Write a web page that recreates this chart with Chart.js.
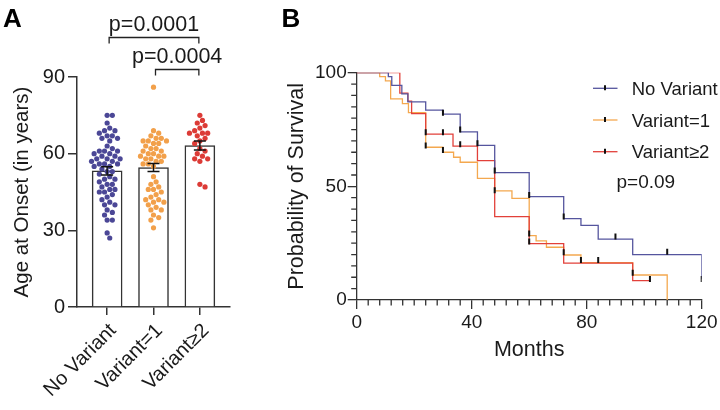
<!DOCTYPE html>
<html lang="en">
<head>
<meta charset="UTF-8">
<title>Age at onset and survival by variant</title>
<script src="https://cdn.jsdelivr.net/npm/chart.js"></script>
<style>
  html, body { margin: 0; padding: 0; background: #fff; }
  #wrap { position: relative; width: 720px; height: 410px; overflow: hidden; }
  #ageChart { position: absolute; left: 0; top: 0; }
  #survChart { position: absolute; left: 270px; top: 0; }
</style>
</head>
<body>
<div id="wrap">
  <canvas id="ageChart" width="270" height="410"></canvas>
  <canvas id="survChart" width="450" height="410"></canvas>
</div>
<script>
// ---- Panel A: age at onset ----
const groups = ['No Variant', 'Variant=1', 'Variant\u22652'];
const meanAge = [53.3, 54.6, 63.2];
const semAge = [1.6, 1.6, 1.8];
const ageNoVariant = [75, 75, 72, 70, 69, 69, 68, 67, 67, 66, 66, 65, 63, 62, 61, 61, 61, 60, 60, 59, 59,
  58, 58, 58, 57, 57, 56, 56, 56, 55, 55, 54, 53, 53, 52, 51, 50, 50, 49, 48, 48, 47, 46, 46, 45, 45,
  44, 43, 42, 41, 40, 40, 38, 37, 36, 34, 34, 29, 27];
const ageVariant1 = [86, 69, 68, 67, 66, 66, 65, 65, 65, 64, 64, 63, 62, 62, 61, 61, 60, 60, 59, 59, 59,
  58, 58, 57, 57, 56, 56, 55, 51, 49, 48, 47, 46, 46, 45, 44, 43, 42, 42, 41, 41, 40, 39, 38, 38, 36,
  35, 34, 31];
const ageVariant2 = [75, 73, 72, 71, 70, 69, 68, 68, 68, 67, 66, 65, 64, 62, 61, 60, 59, 58, 58, 57, 48, 47];
const pLabels = ['p=0.0001', 'p=0.0004'];
const pPairs = [[0, 2], [1, 2]];

// ---- Panel B: survival ----
const seriesNames = ['No Variant', 'Variant=1', 'Variant\u22652'];
const kmTimeNoVariant = [0, 11, 12.2, 15.7, 17.8, 24, 30, 36, 42, 48, 60, 72, 78, 84, 96, 120];
const kmSurvNoVariant = [100, 98.3, 94.4, 90.7, 87.2, 83.5, 81.8, 74, 68, 56, 45.5, 35.8, 32.8, 26.8, 20, 9.4];
const kmTimeVariant1 = [0, 8, 10, 11.8, 15.9, 18, 24, 30, 33.7, 36, 42, 48, 54, 60, 62.4, 66, 72, 78, 96, 108];
const kmSurvVariant1 = [100, 98.3, 96.4, 88.5, 86.4, 82.4, 67.2, 65, 62.8, 60.6, 53.5, 48, 44.7, 28.3, 26, 23.2, 19.8, 16.4, 11, 0];
const kmTimeVariant2 = [0, 15, 17.8, 19.1, 24, 33.5, 42, 48, 60, 72, 96, 102];
const kmSurvVariant2 = [100, 91, 87.5, 82, 73, 67.7, 61.3, 36.7, 24.8, 16.2, 8.5, 8.5];
const censorTimeNoVariant = [30, 36, 48, 60, 72, 90, 108, 120];
const censorSurvNoVariant = [82.4, 75, 57, 46.2, 36.7, 27.9, 21.2, 9.2];
const censorTimeVariant1 = [24, 30, 48, 60, 72, 78, 84, 96];
const censorSurvVariant1 = [68, 66, 48.3, 29.3, 21, 17.6, 17.6, 12];
const censorTimeVariant2 = [24, 30, 36, 42, 60, 102];
const censorSurvVariant2 = [73.8, 73.8, 68.5, 69, 25.7, 9.2];
const pSurvival = 'p=0.09';

Chart.defaults.font.family = '"Liberation Sans", Arial, sans-serif';
Chart.defaults.color = '#1a1a1a';

const dotColors = ['#4b4796', '#f2a04a', '#dc3b36'];
const lineColors = ['#55559e', '#f4a84f', '#e2403a'];

// simple beeswarm so dots don't overlap (pixel sizes of panel A)
const PX_PER_YEAR = 230 / 90, PX_PER_GROUP = 153 / 3.3;
function swarm(vals) {
  const d = 5.2, step = 2.6, placed = [];
  return vals.map(v => {
    const py = v * PX_PER_YEAR;
    for (let k = 0; ; k++) {
      const dx = (k % 2 ? 1 : -1) * Math.ceil(k / 2) * step;
      if (placed.every(p => Math.hypot(p.x - dx, p.y - py) >= d)) {
        placed.push({x: dx, y: py});
        return dx / PX_PER_GROUP;
      }
    }
  });
}

const ageLists = [ageNoVariant, ageVariant1, ageVariant2];
const dotSets = ageLists.map((list, g) => {
  const off = swarm(list);
  return {
    type: 'scatter',
    data: list.map((v, i) => ({x: g + off[i], y: v})),
    backgroundColor: dotColors[g],
    borderWidth: 0,
    pointRadius: 2.6,
    pointHoverRadius: 2.6,
    order: 1
  };
});

const ageExtras = {
  id: 'ageExtras',
  afterDatasetsDraw(chart) {
    const {ctx, scales: {x, y}} = chart;
    ctx.save();
    // error bars (SEM)
    ctx.strokeStyle = '#111';
    ctx.lineWidth = 1.5;
    meanAge.forEach((m, i) => {
      const px = x.getPixelForValue(i);
      const t = y.getPixelForValue(m + semAge[i]);
      const b = y.getPixelForValue(m - semAge[i]);
      ctx.beginPath();
      ctx.moveTo(px, t); ctx.lineTo(px, b);
      ctx.moveTo(px - 6, t); ctx.lineTo(px + 6, t);
      ctx.moveTo(px - 6, b); ctx.lineTo(px + 6, b);
      ctx.stroke();
    });
    // significance brackets
    const rows = [37.5, 69.5];
    ctx.lineWidth = 1.3;
    ctx.strokeStyle = '#222';
    ctx.fillStyle = '#1a1a1a';
    ctx.font = '21.5px "Liberation Sans", Arial, sans-serif';
    ctx.textAlign = 'center';
    ctx.textBaseline = 'alphabetic';
    pPairs.forEach(([a, b], k) => {
      const xa = x.getPixelForValue(a) + 2, xb = x.getPixelForValue(b) - 1;
      const yy = rows[k];
      ctx.beginPath();
      ctx.moveTo(xa, yy + 6); ctx.lineTo(xa, yy); ctx.lineTo(xb, yy); ctx.lineTo(xb, yy + 6);
      ctx.stroke();
      ctx.fillText(pLabels[k], (xa + xb) / 2, yy - 6.5);
    });
    // panel letter
    ctx.textAlign = 'left';
    ctx.font = 'bold 26px "Liberation Sans", Arial, sans-serif';
    ctx.fillStyle = '#000';
    ctx.fillText('A', 3, 27);
    ctx.restore();
  }
};

new Chart(document.getElementById('ageChart'), {
  type: 'scatter',
  data: {
    datasets: [{
      type: 'bar',
      data: meanAge.map((m, i) => ({x: i, y: m})),
      backgroundColor: '#ffffff',
      borderColor: '#333',
      borderWidth: 1.5,
      barThickness: 30,
      order: 2
    }, ...dotSets]
  },
  options: {
    responsive: false,
    animation: false,
    layout: {padding: {top: 77, right: 40, left: 0, bottom: 0}},
    plugins: {legend: {display: false}, tooltip: {enabled: false}},
    scales: {
      x: {
        type: 'linear',
        min: -0.65,
        max: 2.65,
        offset: false,
        afterBuildTicks: s => { s.ticks = groups.map((g, i) => ({value: i})); },
        afterFit: s => { s.height = 103; s.paddingLeft = 0; s.paddingRight = 0; },
        grid: {offset: false, drawOnChartArea: false, tickLength: 8, color: '#333', lineWidth: 1.5},
        border: {color: '#333', width: 1.5},
        ticks: {
          autoSkip: false,
          minRotation: 45,
          maxRotation: 45,
          padding: 4,
          labelOffset: 6,
          font: {size: 20},
          callback: v => groups[v]
        }
      },
      y: {
        min: 0,
        max: 90,
        afterFit: s => { s.width = 77; s.paddingTop = 0; s.paddingBottom = 0; },
        grid: {drawOnChartArea: false, tickLength: 9, color: '#333', lineWidth: 1.5},
        border: {color: '#333', width: 1.5},
        ticks: {stepSize: 30, padding: 3, font: {size: 20}},
        title: {display: true, text: 'Age at Onset (in years)', font: {size: 20.5}, padding: {top: 10.5}}
      }
    }
  },
  plugins: [ageExtras]
});

// ---- Panel B chart ----
const kmTimes = [kmTimeNoVariant, kmTimeVariant1, kmTimeVariant2];
const kmSurv = [kmSurvNoVariant, kmSurvVariant1, kmSurvVariant2];
const cTimes = [censorTimeNoVariant, censorTimeVariant1, censorTimeVariant2];
const cSurv = [censorSurvNoVariant, censorSurvVariant1, censorSurvVariant2];
const drawOrder = [1, 3, 2]; // blue on top, orange at bottom

const kmSets = kmTimes.map((t, g) => ({
  type: 'line',
  data: t.map((m, i) => ({x: m, y: kmSurv[g][i]})),
  borderColor: lineColors[g],
  borderWidth: 1.3,
  stepped: true,
  pointRadius: 0,
  fill: false,
  order: drawOrder[g]
}));
const censorSets = cTimes.map((t, g) => ({
  type: 'scatter',
  data: t.map((m, i) => ({x: m, y: cSurv[g][i]})),
  pointStyle: 'line',
  rotation: 90,
  pointRadius: 3,
  pointHoverRadius: 3,
  borderColor: '#111',
  borderWidth: 2,
  order: 0
}));

const survExtras = {
  id: 'survExtras',
  afterDatasetsDraw(chart) {
    const {ctx, scales: {x, y}} = chart;
    ctx.save();
    // minor ticks
    ctx.strokeStyle = '#333';
    ctx.lineWidth = 1.3;
    ctx.beginPath();
    for (let m = 4; m < 120; m += 4) {
      if (m % 40 === 0) continue;
      const px = x.getPixelForValue(m);
      ctx.moveTo(px, y.bottom); ctx.lineTo(px, y.bottom + 5.5);
    }
    for (let p = 5; p < 100; p += 5) {
      if (p % 50 === 0) continue;
      const py = y.getPixelForValue(p);
      ctx.moveTo(x.left, py); ctx.lineTo(x.left - 5.5, py);
    }
    ctx.stroke();
    // legend
    const lx = 323, rows = [88.3, 120, 151.7];
    ctx.font = '18.5px "Liberation Sans", Arial, sans-serif';
    ctx.fillStyle = '#1a1a1a';
    ctx.textAlign = 'left';
    ctx.textBaseline = 'alphabetic';
    seriesNames.forEach((name, g) => {
      const ry = rows[g];
      ctx.strokeStyle = lineColors[g];
      ctx.lineWidth = 1.3;
      ctx.beginPath(); ctx.moveTo(lx, ry); ctx.lineTo(lx + 24.5, ry); ctx.stroke();
      ctx.strokeStyle = '#111';
      ctx.lineWidth = 2;
      ctx.beginPath(); ctx.moveTo(lx + 12, ry - 3); ctx.lineTo(lx + 12, ry + 2); ctx.stroke();
      ctx.fillText(name, 361.7, ry + 6.7);
    });
    ctx.font = '19px "Liberation Sans", Arial, sans-serif';
    ctx.fillText(pSurvival, 346.5, 188);
    ctx.font = 'bold 26px "Liberation Sans", Arial, sans-serif';
    ctx.fillStyle = '#000';
    ctx.fillText('B', 11.5, 26.5);
    ctx.restore();
  }
};

new Chart(document.getElementById('survChart'), {
  type: 'line',
  data: {datasets: [...kmSets, ...censorSets]},
  options: {
    responsive: false,
    animation: false,
    layout: {padding: {top: 72.7, right: 18.3, left: 0, bottom: 0}},
    plugins: {legend: {display: false}, tooltip: {enabled: false}},
    scales: {
      x: {
        type: 'linear',
        min: 0,
        max: 120,
        afterFit: s => { s.height = 110; },
        grid: {drawOnChartArea: false, tickLength: 9, color: '#333', lineWidth: 1.3},
        border: {color: '#333', width: 1.3},
        ticks: {stepSize: 40, padding: 2, font: {size: 19}, maxRotation: 0},
        title: {display: true, text: 'Months', font: {size: 21.5}, padding: {bottom: 47}}
      },
      y: {
        min: 0,
        max: 100,
        afterFit: s => { s.width = 86.7; },
        grid: {drawOnChartArea: false, tickLength: 9, color: '#333', lineWidth: 1.3},
        border: {color: '#333', width: 1.3},
        ticks: {stepSize: 50, padding: 1, font: {size: 19}},
        title: {display: true, text: 'Probability of Survival', font: {size: 21.5}, padding: {top: 14}}
      }
    }
  },
  plugins: [survExtras]
});
</script>
</body>
</html>
